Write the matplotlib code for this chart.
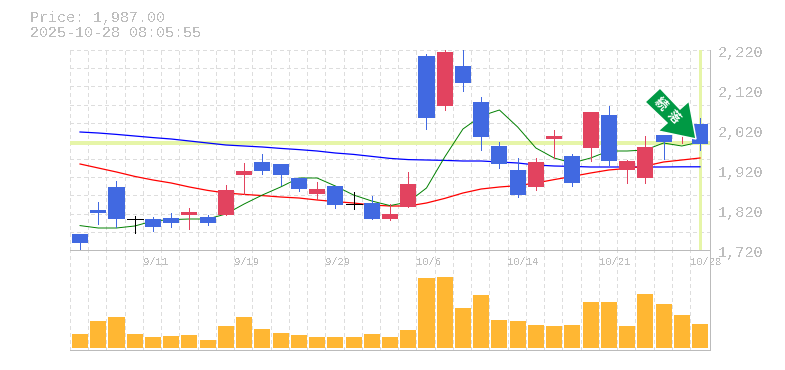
"""
Candlestick chart with three moving averages and a volume panel.
Values read off the reference picture.
"""
import matplotlib
matplotlib.use("Agg")
import matplotlib.pyplot as plt
import numpy as np
from matplotlib.patches import Polygon
from matplotlib.transforms import IdentityTransform

opens  = [1760, 1820, 1877.5, 1797, 1797.5, 1800, 1807.5, 1802.5, 1807.5, 1907.5,
          1940, 1935, 1900, 1860, 1880, 1835, 1837.5, 1797.5, 1827.5, 2205,
          2080, 2180, 2090, 1980, 1920, 1877.5, 1997.5, 1955, 1975, 2057.5,
          1920, 1900, 2007.5, 2015, 2035]
closes = [1737.5, 1812.5, 1797.5, 1797, 1777.5, 1787.5, 1815, 1787.5, 1870, 1917.5,
          1917.5, 1907.5, 1872.5, 1872.5, 1832.5, 1835, 1797.5, 1810, 1885, 2050,
          2215, 2137.5, 2002.5, 1935, 1857.5, 1940, 2005, 1887.5, 2065, 1942.5,
          1942.5, 1977.5, 1990, 2025, 1985]
highs  = [1760, 1840, 1892.5, 1805, 1802.5, 1812.5, 1825, 1807.5, 1882.5, 1937.5,
          1960, 1935, 1900, 1890, 1880, 1865, 1855, 1835, 1915, 2210,
          2220, 2220, 2102.5, 1990, 1950, 1950, 2020, 1960, 2065, 2080,
          1945, 2005, 2007.5, 2030, 2050]
lows   = [1720, 1785, 1777.5, 1762.5, 1767.5, 1777.5, 1772.5, 1782.5, 1807.5, 1860,
          1910, 1882.5, 1867.5, 1847.5, 1825, 1822.5, 1797.5, 1795, 1827.5, 2022.5,
          2070, 2117.5, 1970, 1925, 1852.5, 1870, 1950, 1880, 1942.5, 1932.5,
          1887.5, 1887.5, 1947.5, 1987.5, 1970]

ma_short = [1781, 1775, 1775, 1780, 1792.5, 1796, 1797.5, 1797.5, 1810, 1835,
            1857.5, 1877.5, 1900, 1900, 1880, 1857.5, 1842.5, 1831, 1840, 1875,
            1952.5, 2022.5, 2055, 2070, 2027.5, 1975, 1950, 1937.5, 1950, 1967.5,
            1967.5, 1970, 1987.5, 1980, 1990]
ma_mid   = [1935, 1925, 1915, 1904, 1895, 1887.5, 1877.5, 1869, 1862.5, 1859,
            1856, 1852.5, 1850, 1845, 1841, 1837.5, 1832.5, 1830, 1830, 1837.5,
            1849, 1862.5, 1872.5, 1877.5, 1881, 1887.5, 1896, 1904, 1912.5, 1920,
            1924, 1930, 1940, 1945, 1950]
ma_long  = [2015, 2012.5, 2009, 2005, 2001, 1997.5, 1992.5, 1987.5, 1982.5, 1980,
            1977.5, 1974, 1971, 1967.5, 1962.5, 1959, 1954, 1949, 1946, 1945,
            1944, 1942.5, 1942.5, 1940, 1937.5, 1932.5, 1930, 1929, 1927.5, 1927.5,
            1927.5, 1927.5, 1927.5, 1928, 1928]

volumes = [14, 27, 31, 14, 11, 12, 13, 8, 22, 31, 19, 15, 13, 11, 11, 11, 14, 11,
           18, 70, 71, 40, 53, 28, 27, 23, 22, 23, 46, 46, 22, 54, 44, 33, 24]

price_ticks  = [1720, 1820, 1920, 2020, 2120, 2220]
price_labels = ["1,720", "1,820", "1,920", "2,020", "2,120", "2,220"]
date_idx     = [4, 9, 14, 19, 24, 29, 34]
date_labels  = ["9/11", "9/19", "9/29", "10/6", "10/14", "10/21", "10/28"]
last_price   = 1987
last_idx     = 34

BLUE   = "#4169e1"
RED    = "#e2435f"
ORANGE = "#ffb733"
GRID   = "#dddddd"
FRAME  = "#bbbbbb"
TEXT   = "#bdbdbd"
HILITE = "#e6f5a8"
W, H   = 785, 370
PX     = 0.72  # one pixel in points at dpi 100
MONO   = "Liberation Mono"

plt.rcParams["text.antialiased"] = False


def main():
    fig = plt.figure(figsize=(W / 100, H / 100), dpi=100)
    ax = fig.add_axes([70 / W, (H - 250) / H, 640 / W, 200 / H])
    vol = fig.add_axes([70 / W, (H - 350) / H, 640 / W, 100 / H])

    x = np.arange(len(opens))
    pad = 10 / 18.235
    grid_x = x - 0.55

    for a in (ax, vol):
        a.set_xlim(-pad, x[-1] + pad)
        a.set_xticks(grid_x)
        a.set_xticklabels([])
        a.set_yticks([])
        a.tick_params(length=0)
        a.grid(axis="x", color=GRID, lw=PX, ls=(0, (3, 3)), antialiased=False)
        a.set_axisbelow(True)
        a.spines["top"].set_visible(False)
        a.spines["left"].set_visible(False)
        for s in ("bottom", "right"):
            a.spines[s].set_color(FRAME)
            a.spines[s].set_linewidth(PX)
            a.spines[s].set_antialiased(False)

    # price panel
    ax.set_ylim(1720, 2220)
    ax.set_yticks(np.linspace(1720, 2220, 12), minor=True)
    ax.tick_params(which="minor", length=0)
    ax.grid(which="minor", axis="y", color=GRID, lw=PX, ls=(0, (3, 3)), antialiased=False)

    ax.axhline(last_price, color=HILITE, lw=3.5 * PX, zorder=1.5, antialiased=False)
    ax.axvline(last_idx, color=HILITE, lw=3 * PX, zorder=1.5, antialiased=False)

    ax.plot(x, ma_long, color="#0000ff", lw=0.9, zorder=2)
    ax.plot(x, ma_mid, color="#ff0000", lw=0.9, zorder=2)
    ax.plot(x, ma_short, color="#008000", lw=0.7, zorder=2)

    for i, (o, c, h, l) in enumerate(zip(opens, closes, highs, lows)):
        col = "black" if o == c else (RED if c > o else BLUE)
        ax.vlines(i, l, h, color=col, lw=PX, zorder=3, antialiased=False)
        if o == c:
            ax.hlines(o, i - 0.44, i + 0.44, color=col, lw=PX, zorder=3, antialiased=False)
        else:
            ax.bar(i, abs(c - o), bottom=min(o, c), width=0.88, color=col, zorder=3, antialiased=False)

    for p, lab in zip(price_ticks, price_labels):
        ax.annotate(lab, (1, p), xycoords=ax.get_yaxis_transform(), xytext=(8, -3),
                    textcoords="offset pixels", ha="left", va="center",
                    family=MONO, fontsize=10.9, color=TEXT, annotation_clip=False)

    # volume panel
    vol.set_ylim(-2, 98)
    vol.spines["top"].set_visible(True)
    vol.spines["top"].set_color(FRAME)
    vol.spines["top"].set_linewidth(PX)
    vol.bar(x, volumes, width=0.88, color=ORANGE, zorder=3, antialiased=False)
    for i, lab in zip(date_idx, date_labels):
        vol.text(i - 0.55, 0.88, lab, transform=vol.get_xaxis_transform(), ha="left", va="center",
                 family=MONO, fontsize=7.6, color=TEXT, zorder=4, clip_on=False)

    # header
    fig.text(30 / W, 1 - 18 / H, "Price: 1,987.00", family=MONO, fontsize=10.85,
             color=TEXT, ha="left", va="center")
    fig.text(30 / W, 1 - 33 / H, "2025-10-28 08:05:55", family=MONO, fontsize=10.85,
             color=TEXT, ha="left", va="center")

    # green marker arrow, in picture pixels
    outline = [(660, 88), (645, 102), (667, 123), (658, 131), (696, 139), (689, 101), (680, 109)]
    arrow = Polygon([(px, H - py) for px, py in outline], closed=True, facecolor="#009944",
                    edgecolor="white", lw=1.5 * PX, transform=IdentityTransform(), zorder=10)
    fig.add_artist(arrow)
    for ch, cx, cy in [("続", 660, 104), ("落", 673, 117)]:
        mark = fig.text(cx / W, 1 - cy / H, ch, family=["Noto Sans CJK JP", "DejaVu Sans"],
                        fontsize=9, fontweight="bold", color="white", rotation=-45,
                        rotation_mode="anchor", ha="center", va="center", zorder=11)
        mark.set_antialiased(True)

    fig.savefig("out.png", dpi=100)
    plt.close(fig)


if __name__ == "__main__":
    main()
